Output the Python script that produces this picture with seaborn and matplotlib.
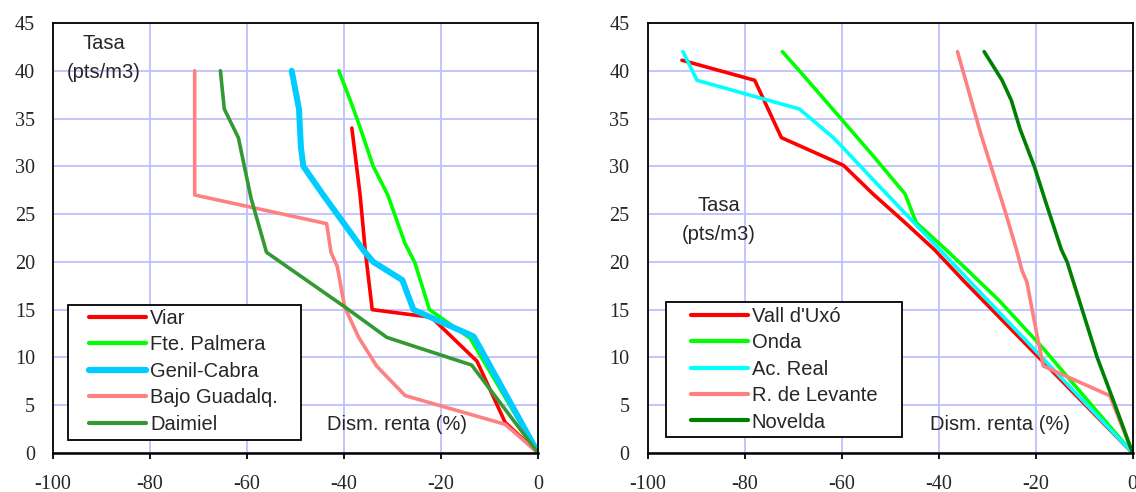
import pandas as pd
import matplotlib.pyplot as plt
import seaborn as sns
from matplotlib.patches import Rectangle

# Panel izquierdo
viar_x = [-38.4, -36.7, -35.6, -34.2, -22, -12.6, -6.8, 0]
viar_y = [34, 27, 21, 15, 14.2, 9.6, 3.2, 0]
palmera_x = [-41.1, -38.8, -37, -34, -31, -27.5, -25.4, -22.4, -14, 0]
palmera_y = [40, 37, 34.5, 30, 27, 22, 19.9, 15, 12, 0]
genil_x = [-50.8, -49.3, -48.9, -48.4, -44.3, -36, -34, -28, -25.7, -13.3, -12.4, 0]
genil_y = [40, 36, 32, 30, 27, 21.2, 20, 18.1, 15, 12.2, 11.4, 0]
bajo_x = [-70.8, -70.8, -43.6, -42.7, -41.4, -39.9, -37, -33.3, -27.4, -6.8, 0]
bajo_y = [40, 27, 24, 21, 19.5, 15.3, 12.1, 9.1, 6, 3, 0]
daimiel_x = [-65.5, -64.7, -61.8, -59.2, -56, -39.9, -31.2, -13.7, 0]
daimiel_y = [40, 36, 33, 26.7, 21, 15.3, 12.1, 9.2, 0]

# Panel derecho
vall_x = [-92.9, -77.9, -72.4, -59.6, -53.5, -46.9, -40.9, -34.6, 0]
vall_y = [41.1, 39, 33, 30.1, 27.1, 24.1, 21.3, 17.9, 0]
onda_x = [-72.2, -68.7, -63.9, -59.8, -53.5, -46.9, -44.6, -38.3, -27.6, -18.7, 0]
onda_y = [42, 40, 37.2, 34.8, 31.1, 27.1, 24.1, 21.2, 16, 11.1, 0]
acreal_x = [-92.7, -89.8, -68.7, -61.7, -59.8, -53.5, -39.8, 0]
acreal_y = [42, 39, 36, 33, 32, 28.6, 21.3, 0]
levante_x = [-36.1, -31.3, -26.1, -23.9, -22.8, -21.8, -19.5, -18.4, -4.7, 0]
levante_y = [42, 33.4, 25, 21.2, 19.1, 17.9, 11.8, 9.1, 6, 0]
novelda_x = [-30.6, -26.9, -25, -23.2, -20.2, -18, -14.7, -13.5, -7.3, -3.6, 0]
novelda_y = [42, 39, 36.9, 33.9, 29.9, 26.4, 21.3, 20, 10, 5, 0]

izq = [
    ("Viar", viar_x, viar_y, "#ff0000", 2.6),
    ("Fte. Palmera", palmera_x, palmera_y, "#00ff00", 2.6),
    ("Genil-Cabra", genil_x, genil_y, "#00ccff", 4.3),
    ("Bajo Guadalq.", bajo_x, bajo_y, "#ff8080", 2.6),
    ("Daimiel", daimiel_x, daimiel_y, "#339933", 2.6),
]
der = [
    ("Vall d'Uxó", vall_x, vall_y, "#ff0000", 2.6),
    ("Onda", onda_x, onda_y, "#00ff00", 2.6),
    ("Ac. Real", acreal_x, acreal_y, "#00ffff", 2.6),
    ("R. de Levante", levante_x, levante_y, "#ff8080", 2.6),
    ("Novelda", novelda_x, novelda_y, "#008000", 2.6),
]

sns.set_style("white")
plt.rcParams["font.family"] = ["Liberation Sans", "DejaVu Sans"]
plt.rcParams["axes.unicode_minus"] = False

fig = plt.figure(figsize=(11.36, 4.92), dpi=100)
ax1 = fig.add_axes([0.0467, 0.0793, 0.427, 0.874])
ax2 = fig.add_axes([0.570, 0.0793, 0.427, 0.874])

fs = 14.5

paneles = [
    # ejes, series, pos. "Tasa", caja leyenda (x0, y0, x1, y1), anclaje leyenda
    (ax1, izq, (-89.5, 42.8, 39.8), (0.03, 0.03, 0.512, 0.343), (0.074, 0.19), -43.5),
    (ax2, der, (-85.3, 25.9, 22.9), (0.039, 0.037, 0.524, 0.351), (0.0887, 0.195), -41.7),
]

for ax, series, tasa_pos, caja, ancla, dism_x in paneles:
    for nombre, xs, ys, col, lw in series:
        df = pd.DataFrame({"x": xs, "y": ys})
        sns.lineplot(data=df, x="x", y="y", sort=False, estimator=None,
                     color=col, linewidth=lw, label=nombre, ax=ax)
    ax.set_xlim(-100, 0)
    ax.set_ylim(0, 45)
    ax.set_xticks(range(-100, 1, 20))
    ax.set_yticks(range(0, 46, 5))
    ax.grid(True, color="#c0c0ff", linewidth=1.3)
    ax.set_axisbelow(True)
    for s in ax.spines.values():
        s.set_color("black")
        s.set_linewidth(1.3)
    ax.spines["bottom"].set_linewidth(1.8)
    ax.tick_params(axis="x", direction="out", length=4.5, width=1.3,
                   color="black", pad=11, bottom=True)
    ax.tick_params(axis="y", length=0, pad=13, left=True)
    for lab in ax.get_xticklabels() + ax.get_yticklabels():
        lab.set_fontfamily("Liberation Serif")
        lab.set_fontsize(14.5)
    ax.set_xlabel("")
    ax.set_ylabel("")
    tx, ty1, ty2 = tasa_pos
    ax.text(tx, ty1, "Tasa", ha="center", va="center", fontsize=fs)
    ax.text(tx, ty2, "(pts/m3)", ha="center", va="center", fontsize=fs)
    ax.text(dism_x, 3.0, "Dism. renta (%)", ha="left", va="center", fontsize=fs)

    # caja de la leyenda
    x0, y0, x1, y1 = caja
    ax.add_patch(Rectangle((x0, y0), x1 - x0, y1 - y0, transform=ax.transAxes,
                           facecolor="white", edgecolor="black", linewidth=1.3,
                           zorder=4.5))
    leg = ax.legend(loc="center left", bbox_to_anchor=ancla, fontsize=fs,
                    frameon=False, handlelength=2.83, handletextpad=0.2,
                    labelspacing=0.37, borderpad=0, borderaxespad=0)
    for h in leg.get_lines():
        h.set_linewidth(3.0 if h.get_label() != "Genil-Cabra" else 4.5)

fig.savefig("out.png", dpi=100)
